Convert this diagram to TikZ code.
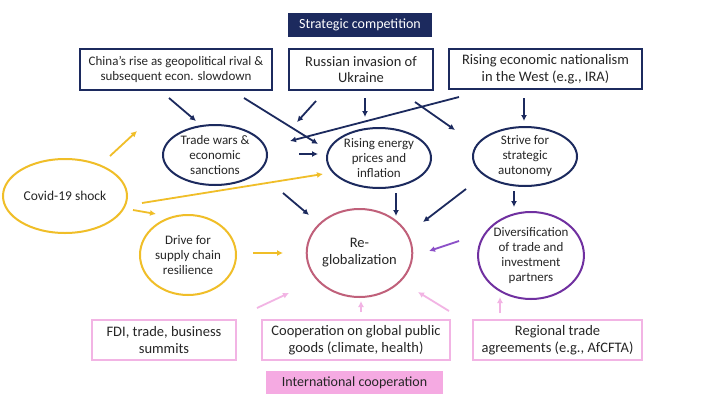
\documentclass[tikz,border=0pt]{standalone}
\usepackage{fontspec}
\setmainfont{Carlito}
\usetikzlibrary{shapes.geometric,arrows.meta}
\definecolor{navy}{RGB}{28,42,94}
\definecolor{gold}{RGB}{240,190,40}
\definecolor{rose}{RGB}{192,96,122}
\definecolor{violet}{RGB}{112,48,160}
\definecolor{lilac}{RGB}{140,80,200}
\definecolor{pinkline}{RGB}{242,180,228}
\definecolor{pinkfill}{RGB}{245,170,226}
\definecolor{ink}{RGB}{38,38,38}
\begin{document}
\begin{tikzpicture}[x=1pt,y=-1pt,
  topbox/.style={draw=navy,line width=1.2pt,rectangle,inner sep=0pt,align=center,text=ink},
  botbox/.style={draw=pinkline,line width=1.2pt,rectangle,inner sep=0pt,align=center,text=ink,
    minimum height=40pt,font=\fontsize{14.5}{17}\selectfont},
  oval/.style={ellipse,inner sep=0pt,align=center,text=ink,line width=2pt},
  tip/.style={-{Latex[length=6pt,width=6pt]}},
  navyarrow/.style={draw=navy,line width=1.8pt,tip},
  goldarrow/.style={draw=gold,line width=1.8pt,tip},
  pinkarrow/.style={draw=pinkline,line width=1.8pt,tip},
  lilacarrow/.style={draw=lilac,line width=1.8pt,tip},
]
\useasboundingbox (0,0) rectangle (720,405);
\fill[white] (0,0) rectangle (720,405);

% headers
\node[fill=navy,text=white,inner sep=0pt,minimum width=144pt,minimum height=24pt,
  font=\fontsize{14}{16}\selectfont] (sc) at (360,25) {Strategic competition};
\node[fill=pinkfill,text=ink,inner sep=0pt,minimum width=177pt,minimum height=23pt,
  font=\fontsize{14}{16}\selectfont] (ic) at (354.5,382.5) {International cooperation};

% top boxes
\node[topbox,minimum width=192pt,minimum height=41pt,font=\fontsize{13}{15}\selectfont]
  (china) at (176,69.5) {China’s rise as geopolitical rival \&\\subsequent econ. slowdown};
\node[topbox,minimum width=144pt,minimum height=41pt,font=\fontsize{14.5}{16.5}\selectfont]
  (russia) at (361,69.5) {Russian invasion of\\Ukraine};
\node[topbox,minimum width=193pt,minimum height=40pt,font=\fontsize{14.5}{17}\selectfont]
  (west) at (545.5,69) {Rising economic nationalism\\in the West (e.g., IRA)};

% ellipses
\node[oval,draw=navy,minimum width=104pt,minimum height=60pt,font=\fontsize{13}{15}\selectfont]
  (trade) at (215,155) {Trade wars \&\\economic\\sanctions};
\node[oval,draw=navy,minimum width=104pt,minimum height=60pt,font=\fontsize{13}{15}\selectfont]
  (energy) at (379,158) {Rising energy\\prices and\\inflation};
\node[oval,draw=navy,minimum width=104pt,minimum height=59pt,font=\fontsize{13}{15}\selectfont]
  (strive) at (525,156.5) {Strive for\\strategic\\autonomy};
\node[oval,draw=gold,minimum width=124pt,minimum height=74pt,font=\fontsize{13.5}{16}\selectfont]
  (covid) at (65,196) {Covid-19 shock};
\node[oval,draw=gold,minimum width=96pt,minimum height=80pt,font=\fontsize{13}{15}\selectfont]
  (drive) at (188,255) {Drive for\\supply chain\\resilience};
\node[oval,draw=rose,minimum width=95pt,minimum height=88pt,font=\fontsize{14.5}{17}\selectfont]
  (reglob) at (359.5,253) {Re-\\globalization};
\node[oval,draw=violet,minimum width=104pt,minimum height=87pt,font=\fontsize{13}{15}\selectfont]
  (divers) at (531,255.5) {Diversification\\of trade and\\investment\\partners};

% bottom boxes
\node[botbox,minimum width=144pt] (fdi) at (164,340) {FDI, trade, business\\summits};
\node[botbox,minimum width=188pt] (coop) at (356,340) {Cooperation on global public\\goods (climate, health)};
\node[botbox,minimum width=169pt] (rta) at (557.5,340) {Regional trade\\agreements (e.g., AfCFTA)};

% connector end points
\coordinate (n1s) at (169,98);  \coordinate (n1e) at (196,121);
\coordinate (n2s) at (244,98);  \coordinate (n2e) at (318,144);
\coordinate (n3s) at (316,101); \coordinate (n3e) at (297,122);
\coordinate (n4s) at (365,98);  \coordinate (n4e) at (365,117);
\coordinate (n5s) at (459,97);  \coordinate (n5e) at (290,141);
\coordinate (n6s) at (415,102); \coordinate (n6e) at (455,130);
\coordinate (n7s) at (524,98);  \coordinate (n7e) at (524,121);
\coordinate (n8s) at (299,154); \coordinate (n8e) at (318,154);
\coordinate (n9s) at (283,193); \coordinate (n9e) at (309,215);
\coordinate (n10s) at (396,193); \coordinate (n10e) at (396,216);
\coordinate (n11s) at (466,189); \coordinate (n11e) at (423,222);
\coordinate (n12s) at (514,191); \coordinate (n12e) at (514,207);
\coordinate (v1s) at (459,241); \coordinate (v1e) at (429,251);
\coordinate (g1s) at (110,156); \coordinate (g1e) at (137,131);
\coordinate (g2s) at (142,203); \coordinate (g2e) at (323,174);
\coordinate (g3s) at (133,210); \coordinate (g3e) at (156,214);
\coordinate (g4s) at (253,253); \coordinate (g4e) at (283,253);
\coordinate (p1s) at (257,308); \coordinate (p1e) at (289,293);
\coordinate (p2s) at (361,312); \coordinate (p2e) at (361,301);
\coordinate (p3s) at (449,311); \coordinate (p3e) at (418,292);
\coordinate (p4s) at (500,313); \coordinate (p4e) at (500,297);

% connectors
\draw[navyarrow] (n1s) -- (n1e);
\draw[navyarrow] (n2s) -- (n2e);
\draw[navyarrow] (n3s) -- (n3e);
\draw[navyarrow] (n4s) -- (n4e);
\draw[navyarrow] (n5s) -- (n5e);
\draw[navyarrow] (n6s) -- (n6e);
\draw[navyarrow] (n7s) -- (n7e);
\draw[navyarrow] (n8s) -- (n8e);
\draw[navyarrow] (n9s) -- (n9e);
\draw[navyarrow] (n10s) -- (n10e);
\draw[navyarrow] (n11s) -- (n11e);
\draw[navyarrow] (n12s) -- (n12e);
\draw[lilacarrow] (v1s) -- (v1e);
\draw[goldarrow] (g1s) -- (g1e);
\draw[goldarrow] (g2s) -- (g2e);
\draw[goldarrow] (g3s) -- (g3e);
\draw[goldarrow] (g4s) -- (g4e);
\draw[pinkarrow] (p1s) -- (p1e);
\draw[pinkarrow] (p2s) -- (p2e);
\draw[pinkarrow] (p3s) -- (p3e);
\draw[pinkarrow] (p4s) -- (p4e);
\end{tikzpicture}
\end{document}
